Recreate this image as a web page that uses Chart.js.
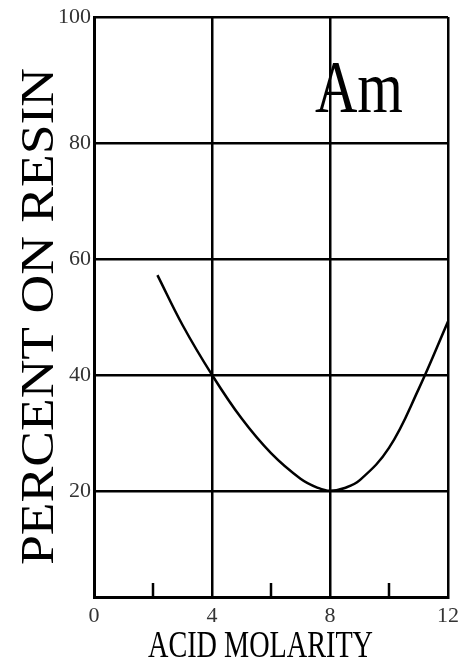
<!DOCTYPE html>
<html>
<head>
<meta charset="utf-8">
<script src="https://cdn.jsdelivr.net/npm/chart.js@4/dist/chart.umd.min.js"></script>
<style>
  html, body { margin: 0; padding: 0; background: #fff; }
  #wrap { position: relative; width: 465px; height: 658px; }
</style>
</head>
<body>
<div id="wrap"><canvas id="chart"></canvas></div>
<script>
// Am uptake vs. acid molarity
const molarity = [2.15, 3, 4, 5, 6, 7, 7.6, 8, 8.5, 9, 10, 11, 12];
const percentOnResin = [57.2, 48.6, 40, 32.5, 26.5, 22.1, 20.5, 20, 20.5, 21.8, 27.4, 37.5, 49.2];

const xMajorTicks = [0, 4, 8, 12];
const xMinorTicks = [2, 6, 10];
const yTickValues = [20, 40, 60, 80, 100];
const yTickLabels = ['20', '40', '60', '80', '100'];

const SERIF = '"Liberation Serif", "Times New Roman", serif';

// draws text squeezed/stretched into a box: cap height + run length
function fittedText(ctx, text, x, y, len, cap, angle) {
  ctx.save();
  ctx.translate(x, y);
  ctx.rotate(angle);
  ctx.font = `${Math.round(cap / 0.66)}px ${SERIF}`;
  const w = ctx.measureText(text).width;
  ctx.scale(len / w, 1);
  ctx.textAlign = 'left';
  ctx.textBaseline = 'alphabetic';
  ctx.fillStyle = '#000';
  ctx.fillText(text, 0, 0);
  ctx.restore();
}

const decorations = {
  id: 'decorations',
  afterDraw(chart) {
    const { ctx, chartArea, scales } = chart;
    // short inward ticks on the bottom axis
    ctx.save();
    ctx.strokeStyle = '#000';
    ctx.lineWidth = 2.5;
    xMinorTicks.forEach(v => {
      const px = scales.x.getPixelForValue(v);
      ctx.beginPath();
      ctx.moveTo(px, chartArea.bottom);
      ctx.lineTo(px, chartArea.bottom - 14);
      ctx.stroke();
    });
    ctx.restore();

    fittedText(ctx, 'Am', 315, 112, 88, 49, 0);
    fittedText(ctx, 'ACID MOLARITY', 148, 657, 225, 25, 0);
    fittedText(ctx, 'PERCENT ON RESIN', 53, 565, 497, 31, -Math.PI / 2);
  }
};

new Chart(document.getElementById('chart'), {
  type: 'line',
  data: {
    datasets: [{
      data: molarity.map((x, i) => ({ x, y: percentOnResin[i] })),
      borderColor: '#000',
      borderWidth: 2.5,
      pointRadius: 0,
      fill: false,
      tension: 0.4,
    }],
  },
  options: {
    responsive: true,
    maintainAspectRatio: false,
    animation: false,
    layout: { padding: { top: 17, right: 15, left: 0, bottom: 0 } },
    plugins: {
      legend: { display: false },
      tooltip: { enabled: false },
    },
    scales: {
      x: {
        type: 'linear',
        min: 0,
        max: 12,
        afterBuildTicks(scale) {
          scale.ticks = xMajorTicks.map(value => ({ value }));
        },
        afterFit(scale) { scale.height = 61; },
        grid: { color: '#000', lineWidth: 2.5, drawTicks: false },
        border: { color: '#000', width: 3 },
        ticks: {
          padding: 6,
          color: '#333',
          font: { family: SERIF, size: 22 },
          maxRotation: 0,
        },
      },
      y: {
        type: 'linear',
        min: 1.7,
        max: 101.7,
        // the frame's top edge carries the 100 label
        afterBuildTicks(scale) {
          const last = yTickValues.length - 1;
          scale.ticks = yTickValues.map((v, i) => ({ value: i === last ? scale.max : v }));
        },
        afterFit(scale) { scale.width = 94; },
        grid: { color: '#000', lineWidth: 2.5, drawTicks: false },
        border: { color: '#000', width: 3 },
        ticks: {
          padding: 3,
          color: '#333',
          font: { family: SERIF, size: 22 },
          callback: (value, index) => yTickLabels[index],
        },
      },
    },
  },
  plugins: [decorations],
});
</script>
</body>
</html>
